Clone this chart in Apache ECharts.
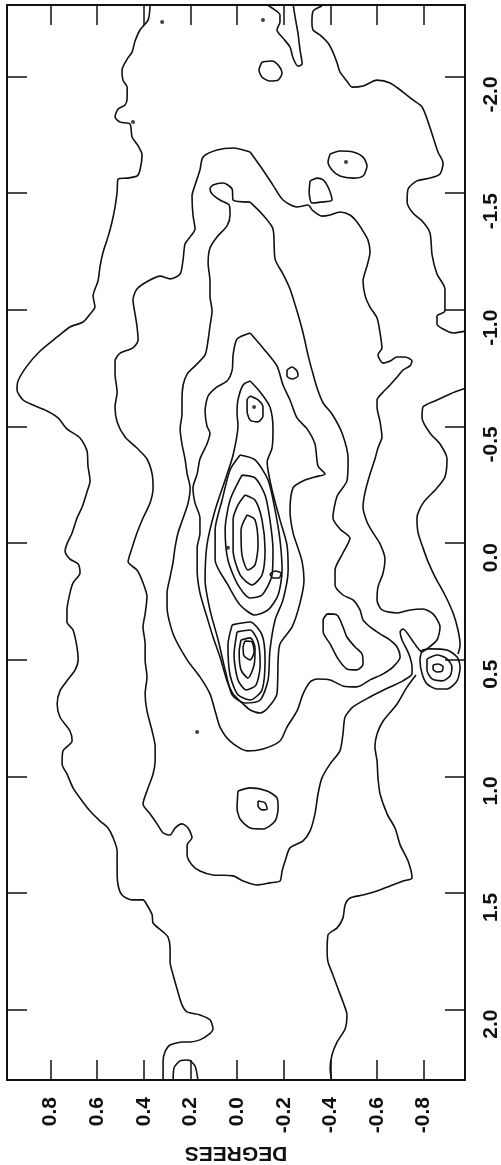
<!DOCTYPE html>
<html><head><meta charset="utf-8">
<script src="https://cdn.jsdelivr.net/npm/echarts@6/dist/echarts.min.js"></script>
<style>html,body{margin:0;padding:0;background:#fff}#c{width:501px;height:1165px}</style>
</head><body><div id="c"></div>
<script>
// Axis tick values (degrees)
const latTicks = [-0.8,-0.6,-0.4,-0.2,0,0.2,0.4,0.6,0.8];
const lonTicks = [-2,-1.5,-1,-0.5,0,0.5,1,1.5,2];
const axisName = 'DEGREES';

// Contours: [latitude, longitude] in degrees
const contourA = [[0.373,-2.302],[0.381,-2.242],[0.416,-2.199],[0.437,-2.152],[0.450,-2.104],[0.471,-2.074],[0.493,-2.027],[0.489,-1.984],[0.471,-1.954],[0.471,-1.907],[0.480,-1.877],[0.510,-1.860],[0.523,-1.826],[0.501,-1.804],[0.459,-1.796],[0.450,-1.740],[0.424,-1.702],[0.407,-1.663],[0.416,-1.599],[0.429,-1.573],[0.471,-1.564],[0.510,-1.560],[0.514,-1.504],[0.523,-1.440],[0.536,-1.376],[0.553,-1.312],[0.574,-1.247],[0.587,-1.187],[0.596,-1.123],[0.617,-1.059],[0.609,-1.011],[0.630,-0.981],[0.660,-0.947],[0.716,-0.926],[0.771,-0.883],[0.844,-0.823],[0.900,-0.759],[0.939,-0.694],[0.943,-0.656],[0.917,-0.613],[0.874,-0.591],[0.814,-0.566],[0.767,-0.536],[0.729,-0.489],[0.673,-0.450],[0.643,-0.394],[0.639,-0.330],[0.630,-0.266],[0.643,-0.219],[0.664,-0.154],[0.686,-0.107],[0.707,-0.043],[0.729,0.004],[0.737,0.034],[0.716,0.069],[0.681,0.090],[0.673,0.129],[0.703,0.171],[0.716,0.214],[0.729,0.287],[0.729,0.339],[0.703,0.373],[0.686,0.446],[0.681,0.501],[0.694,0.544],[0.729,0.591],[0.759,0.634],[0.771,0.690],[0.759,0.746],[0.716,0.806],[0.707,0.849],[0.746,0.891],[0.750,0.947],[0.729,0.990],[0.703,1.050],[0.664,1.106],[0.630,1.149],[0.587,1.192],[0.553,1.222],[0.531,1.264],[0.514,1.320],[0.514,1.406],[0.510,1.466],[0.493,1.509],[0.450,1.530],[0.403,1.530],[0.386,1.552],[0.364,1.594],[0.360,1.629],[0.317,1.667],[0.296,1.689],[0.287,1.736],[0.287,1.796],[0.274,1.852],[0.257,1.912],[0.236,1.980],[0.214,2.010],[0.159,2.023],[0.116,2.044],[0.103,2.083],[0.124,2.109],[0.159,2.130],[0.201,2.139],[0.231,2.139],[0.287,2.152],[0.309,2.182],[0.317,2.224],[0.317,2.310]];

const contourB1 = [[-0.364,-2.302],[-0.326,-2.280],[-0.321,-2.233],[-0.326,-2.199],[-0.356,-2.177],[-0.390,-2.143],[-0.411,-2.104],[-0.429,-2.057],[-0.441,-2.019],[-0.471,-1.980],[-0.493,-1.954],[-0.540,-1.959],[-0.600,-1.984],[-0.656,-1.972],[-0.711,-1.933],[-0.754,-1.899],[-0.793,-1.869],[-0.819,-1.804],[-0.840,-1.740],[-0.861,-1.676],[-0.883,-1.629],[-0.870,-1.582],[-0.827,-1.564],[-0.771,-1.552],[-0.733,-1.517],[-0.729,-1.461],[-0.754,-1.414],[-0.797,-1.376],[-0.827,-1.329],[-0.836,-1.234],[-0.857,-1.153],[-0.891,-1.089],[-0.891,-0.994],[-0.857,-0.973],[-0.857,-0.939],[-0.883,-0.917],[-0.926,-0.900],[-0.981,-0.909]];

const contourB2 = [[-0.981,-0.664],[-0.913,-0.639],[-0.857,-0.613],[-0.797,-0.583],[-0.793,-0.536],[-0.827,-0.471],[-0.870,-0.424],[-0.900,-0.360],[-0.891,-0.283],[-0.857,-0.236],[-0.797,-0.171],[-0.771,-0.107],[-0.776,-0.043],[-0.797,0.021],[-0.819,0.081],[-0.849,0.146],[-0.891,0.223],[-0.926,0.300],[-0.947,0.373],[-0.956,0.437],[-0.947,0.476]];

const contourB3 = [[-0.767,0.566],[-0.729,0.617],[-0.686,0.690],[-0.626,0.763],[-0.600,0.819],[-0.591,0.874],[-0.600,0.934],[-0.604,1.007],[-0.613,1.076],[-0.643,1.161],[-0.677,1.222],[-0.699,1.294],[-0.733,1.363],[-0.750,1.436],[-0.711,1.449],[-0.656,1.470],[-0.600,1.492],[-0.540,1.509],[-0.484,1.522],[-0.463,1.552],[-0.454,1.607],[-0.429,1.650],[-0.390,1.680],[-0.386,1.753],[-0.390,1.796],[-0.411,1.852],[-0.433,1.912],[-0.454,1.967],[-0.471,2.023],[-0.463,2.083],[-0.429,2.139],[-0.407,2.194],[-0.399,2.254],[-0.407,2.310]];

const contourL2 = [[-0.056,-1.676],[0.017,-1.693],[0.086,-1.684],[0.146,-1.654],[0.159,-1.599],[0.180,-1.534],[0.193,-1.487],[0.189,-1.406],[0.180,-1.346],[0.201,-1.312],[0.223,-1.282],[0.231,-1.217],[0.244,-1.153],[0.287,-1.132],[0.330,-1.144],[0.381,-1.123],[0.429,-1.089],[0.446,-1.042],[0.437,-0.981],[0.429,-0.930],[0.424,-0.870],[0.446,-0.836],[0.501,-0.814],[0.523,-0.780],[0.523,-0.724],[0.514,-0.647],[0.523,-0.583],[0.514,-0.519],[0.480,-0.454],[0.429,-0.407],[0.386,-0.360],[0.364,-0.296],[0.360,-0.236],[0.373,-0.171],[0.403,-0.107],[0.429,-0.043],[0.450,0.021],[0.467,0.081],[0.429,0.116],[0.403,0.171],[0.386,0.231],[0.394,0.304],[0.403,0.360],[0.394,0.433],[0.394,0.501],[0.386,0.574],[0.394,0.647],[0.386,0.720],[0.364,0.806],[0.351,0.874],[0.351,0.934],[0.360,0.990],[0.386,1.063],[0.403,1.119],[0.373,1.161],[0.343,1.204],[0.317,1.243],[0.287,1.252],[0.266,1.222],[0.236,1.204],[0.210,1.222],[0.193,1.264],[0.214,1.294],[0.214,1.337],[0.193,1.380],[0.159,1.406],[0.103,1.423],[0.017,1.427],[-0.026,1.449],[-0.086,1.466],[-0.141,1.457],[-0.184,1.449],[-0.193,1.406],[-0.206,1.363],[-0.227,1.307],[-0.283,1.277],[-0.313,1.234],[-0.334,1.161],[-0.347,1.076],[-0.364,1.007],[-0.399,0.947],[-0.441,0.891],[-0.454,0.819],[-0.463,0.746],[-0.497,0.703],[-0.570,0.660],[-0.656,0.617],[-0.711,0.591],[-0.750,0.561],[-0.750,0.531],[-0.741,0.489],[-0.729,0.459],[-0.707,0.416],[-0.699,0.381],[-0.711,0.369],[-0.750,0.416],[-0.771,0.446],[-0.793,0.467],[-0.814,0.454],[-0.857,0.416],[-0.870,0.360],[-0.840,0.304],[-0.797,0.283],[-0.741,0.287],[-0.686,0.300],[-0.621,0.287],[-0.600,0.244],[-0.604,0.189],[-0.626,0.129],[-0.634,0.069],[-0.613,0.004],[-0.583,-0.043],[-0.557,-0.090],[-0.540,-0.154],[-0.549,-0.219],[-0.570,-0.296],[-0.591,-0.360],[-0.604,-0.407],[-0.621,-0.454],[-0.613,-0.519],[-0.600,-0.583],[-0.600,-0.613],[-0.626,-0.647],[-0.656,-0.677],[-0.686,-0.711],[-0.711,-0.741],[-0.741,-0.759],[-0.750,-0.780],[-0.720,-0.797],[-0.686,-0.797],[-0.656,-0.780],[-0.626,-0.771],[-0.604,-0.806],[-0.621,-0.836],[-0.613,-0.900],[-0.600,-0.964],[-0.570,-1.011],[-0.549,-1.059],[-0.540,-1.123],[-0.557,-1.187],[-0.570,-1.247],[-0.561,-1.299],[-0.540,-1.337],[-0.514,-1.376],[-0.484,-1.406],[-0.441,-1.419],[-0.399,-1.406],[-0.364,-1.401],[-0.326,-1.423],[-0.304,-1.449],[-0.257,-1.440],[-0.197,-1.470],[-0.154,-1.534],[-0.111,-1.599],[-0.056,-1.676]];

const contourL3 = [[-0.056,-1.461],[0.017,-1.470],[0.021,-1.517],[0.060,-1.543],[0.103,-1.534],[0.116,-1.517],[0.107,-1.496],[0.073,-1.470],[0.034,-1.449],[0.030,-1.406],[0.043,-1.359],[0.086,-1.312],[0.116,-1.264],[0.124,-1.200],[0.116,-1.123],[0.116,-1.059],[0.107,-0.994],[0.116,-0.930],[0.124,-0.870],[0.137,-0.806],[0.180,-0.759],[0.214,-0.724],[0.231,-0.677],[0.236,-0.613],[0.236,-0.553],[0.244,-0.489],[0.236,-0.424],[0.223,-0.360],[0.214,-0.296],[0.201,-0.236],[0.210,-0.171],[0.231,-0.107],[0.253,-0.043],[0.266,0.021],[0.274,0.081],[0.287,0.146],[0.300,0.214],[0.300,0.274],[0.274,0.390],[0.214,0.501],[0.159,0.574],[0.116,0.647],[0.094,0.720],[0.073,0.789],[0.030,0.849],[-0.043,0.891],[-0.111,0.883],[-0.184,0.849],[-0.214,0.789],[-0.257,0.720],[-0.283,0.647],[-0.313,0.596],[-0.343,0.583],[-0.399,0.587],[-0.454,0.613],[-0.514,0.617],[-0.570,0.587],[-0.626,0.561],[-0.669,0.531],[-0.699,0.489],[-0.686,0.446],[-0.656,0.416],[-0.613,0.390],[-0.570,0.360],[-0.540,0.330],[-0.527,0.287],[-0.497,0.244],[-0.454,0.223],[-0.420,0.180],[-0.420,0.116],[-0.454,0.043],[-0.484,-0.021],[-0.441,-0.060],[-0.411,-0.107],[-0.429,-0.201],[-0.471,-0.266],[-0.476,-0.360],[-0.450,-0.471],[-0.407,-0.553],[-0.369,-0.600],[-0.343,-0.664],[-0.321,-0.741],[-0.304,-0.806],[-0.283,-0.900],[-0.257,-0.994],[-0.227,-1.089],[-0.197,-1.153],[-0.163,-1.217],[-0.154,-1.346],[-0.111,-1.406],[-0.056,-1.461]];

const contourL4 = [[-0.056,-0.900],[0.000,-0.874],[0.017,-0.806],[0.021,-0.741],[0.043,-0.694],[0.086,-0.669],[0.124,-0.630],[0.137,-0.566],[0.129,-0.501],[0.116,-0.471],[0.129,-0.424],[0.159,-0.360],[0.171,-0.296],[0.189,-0.236],[0.180,-0.171],[0.159,-0.107],[0.159,-0.043],[0.171,0.021],[0.171,0.116],[0.159,0.214],[0.129,0.317],[0.103,0.403],[0.073,0.489],[0.043,0.591],[0.017,0.647],[-0.026,0.690],[-0.056,0.716],[-0.099,0.729],[-0.129,0.711],[-0.171,0.647],[-0.176,0.501],[-0.184,0.433],[-0.236,0.360],[-0.270,0.257],[-0.287,0.159],[-0.279,0.081],[-0.261,0.021],[-0.240,-0.043],[-0.227,-0.137],[-0.240,-0.236],[-0.283,-0.266],[-0.334,-0.283],[-0.377,-0.296],[-0.347,-0.330],[-0.334,-0.424],[-0.300,-0.489],[-0.257,-0.536],[-0.227,-0.613],[-0.197,-0.677],[-0.171,-0.759],[-0.111,-0.836],[-0.056,-0.900]];

const coreC5 = [[-0.056,-0.694],[-0.099,-0.647],[-0.141,-0.583],[-0.154,-0.489],[-0.150,-0.407],[-0.129,-0.347],[-0.150,-0.227],[-0.184,-0.099],[-0.214,0.009],[-0.219,0.116],[-0.197,0.244],[-0.163,0.330],[-0.141,0.459],[-0.133,0.587],[-0.099,0.673],[-0.034,0.686],[0.021,0.651],[0.051,0.544],[0.081,0.416],[0.116,0.287],[0.137,0.159],[0.129,0.009],[0.094,-0.141],[0.051,-0.270],[0.017,-0.377],[-0.004,-0.506],[0.000,-0.553],[-0.004,-0.613],[-0.026,-0.677],[-0.056,-0.694]];
const coreC6 = [[-0.013,-0.377],[-0.077,-0.356],[-0.133,-0.270],[-0.163,-0.141],[-0.184,-0.013],[-0.193,0.116],[-0.176,0.223],[-0.133,0.287],[-0.077,0.309],[-0.013,0.266],[0.039,0.180],[0.094,0.073],[0.094,-0.056],[0.064,-0.184],[0.030,-0.313],[-0.013,-0.377]];
const coreC7 = [[-0.021,-0.291],[-0.077,-0.279],[-0.120,-0.206],[-0.141,-0.099],[-0.154,0.030],[-0.150,0.137],[-0.107,0.223],[-0.056,0.236],[-0.004,0.180],[0.039,0.073],[0.051,-0.056],[0.030,-0.184],[-0.021,-0.291]];
const coreC8 = [[-0.034,-0.206],[-0.077,-0.184],[-0.107,-0.099],[-0.120,0.030],[-0.107,0.137],[-0.064,0.180],[-0.013,0.137],[0.017,0.030],[0.017,-0.099],[-0.004,-0.163],[-0.034,-0.206]];
const coreC9 = [[-0.043,-0.120],[-0.077,-0.099],[-0.090,0.009],[-0.077,0.094],[-0.047,0.116],[-0.021,0.051],[-0.017,-0.056],[-0.043,-0.120]];
const topT1 = [[-0.056,-0.630],[-0.090,-0.613],[-0.111,-0.583],[-0.111,-0.544],[-0.090,-0.519],[-0.056,-0.527],[-0.043,-0.566],[-0.043,-0.613],[-0.056,-0.630]];
const lowB1 = [[0.021,0.351],[-0.056,0.339],[-0.107,0.394],[-0.120,0.501],[-0.107,0.630],[-0.056,0.673],[-0.004,0.651],[0.030,0.566],[0.039,0.437],[0.021,0.351]];
const lowB2 = [[0.000,0.381],[-0.056,0.373],[-0.090,0.424],[-0.099,0.523],[-0.081,0.609],[-0.039,0.630],[-0.004,0.587],[0.013,0.480],[0.000,0.381]];
const lowB3 = [[-0.017,0.416],[-0.056,0.407],[-0.077,0.450],[-0.073,0.523],[-0.047,0.579],[-0.017,0.544],[-0.009,0.467],[-0.017,0.416]];
const lowB4 = [[-0.034,0.420],[-0.064,0.424],[-0.073,0.467],[-0.056,0.501],[-0.030,0.484],[-0.026,0.446],[-0.034,0.420]];
const ovalE = [[-0.141,0.133],[-0.163,0.120],[-0.189,0.129],[-0.180,0.150],[-0.154,0.150],[-0.141,0.133]];

const loopS1 = [[-0.107,-2.062],[-0.150,-2.066],[-0.180,-2.044],[-0.193,-2.014],[-0.176,-1.984],[-0.141,-1.980],[-0.107,-1.997],[-0.094,-2.027],[-0.107,-2.062]];
const loopS2 = [[-0.399,-1.667],[-0.441,-1.680],[-0.497,-1.676],[-0.540,-1.654],[-0.557,-1.616],[-0.540,-1.573],[-0.497,-1.564],[-0.441,-1.573],[-0.407,-1.599],[-0.390,-1.633],[-0.399,-1.667]];
const loopD = [[-0.313,-1.552],[-0.343,-1.564],[-0.369,-1.556],[-0.390,-1.526],[-0.407,-1.470],[-0.356,-1.461],[-0.321,-1.457],[-0.309,-1.504],[-0.313,-1.552]];
const loopS3 = [[-0.214,-0.741],[-0.236,-0.754],[-0.257,-0.737],[-0.261,-0.716],[-0.236,-0.703],[-0.214,-0.716],[-0.214,-0.741]];
const island = [[-0.386,0.304],[-0.429,0.309],[-0.454,0.360],[-0.471,0.403],[-0.506,0.446],[-0.536,0.476],[-0.540,0.519],[-0.514,0.544],[-0.471,0.540],[-0.433,0.497],[-0.399,0.433],[-0.369,0.381],[-0.369,0.330],[-0.386,0.304]];
const ringOuter = [[-0.793,0.459],[-0.827,0.454],[-0.900,0.459],[-0.943,0.489],[-0.956,0.531],[-0.943,0.591],[-0.900,0.626],[-0.857,0.626],[-0.814,0.604],[-0.793,0.561],[-0.784,0.501],[-0.793,0.459]];
const ringMid = [[-0.814,0.497],[-0.857,0.480],[-0.900,0.497],[-0.921,0.531],[-0.913,0.570],[-0.879,0.591],[-0.836,0.583],[-0.814,0.544],[-0.814,0.497]];
const ringInner = [[-0.840,0.523],[-0.861,0.519],[-0.883,0.531],[-0.879,0.549],[-0.857,0.553],[-0.840,0.540],[-0.840,0.523]];
const loopS4 = [[-0.004,1.063],[-0.056,1.050],[-0.129,1.063],[-0.171,1.093],[-0.176,1.136],[-0.163,1.192],[-0.111,1.226],[-0.056,1.222],[-0.013,1.183],[0.000,1.136],[-0.004,1.063]];
const loopS4in = [[-0.090,1.106],[-0.120,1.114],[-0.129,1.140],[-0.107,1.144],[-0.090,1.127],[-0.090,1.106]];
const bottomArc = [[0.274,2.310],[0.270,2.250],[0.244,2.220],[0.210,2.216],[0.180,2.242],[0.167,2.310]];
const topFinger = [[-0.124,-2.310],[-0.163,-2.284],[-0.184,-2.263],[-0.184,-2.233],[-0.171,-2.199],[-0.197,-2.164],[-0.227,-2.126],[-0.240,-2.079],[-0.261,-2.044],[-0.279,-2.053],[-0.270,-2.113],[-0.261,-2.186],[-0.249,-2.254],[-0.240,-2.310]];
const dots = [[-0.111,-2.242],[0.321,-2.233],[0.446,-1.804],[-0.467,-1.633],[0.171,0.810],[-0.073,-0.583],[0.039,0.021]];

const strokes = [contourA, contourB1, contourB2, contourB3, contourL2, contourL3, contourL4,
  coreC5, coreC6, coreC7, coreC8, coreC9, topT1, lowB1, lowB2, lowB3, lowB4, ovalE,
  loopS1, loopS2, loopD, loopS3, island, ringOuter, ringMid, ringInner, loopS4, loopS4in, bottomArc, topFinger];

const chart = echarts.init(document.getElementById('c'), null, {renderer: 'canvas'});
const labelFont = {fontFamily: "'Liberation Sans',Arial,Helvetica,sans-serif", fontWeight: 'bold', fontSize: 21, color: '#111'};
const series = strokes.map(d => ({
  type: 'line', data: d, showSymbol: false, smooth: 0.25, animation: false,
  lineStyle: {color: '#111', width: 1.6}, silent: true
}));
series.push({type: 'scatter', data: dots, symbolSize: 4, itemStyle: {color: '#111'}, animation: false, silent: true});

chart.setOption({
  backgroundColor: '#fff',
  animation: false,
  grid: {left: 7, right: 36, top: 5, bottom: 85, containLabel: false, outerBoundsMode: 'none'},
  xAxis: [
    {type: 'value', position: 'bottom', inverse: true, min: -0.977, max: 0.986,
     splitLine: {show: false},
     axisLine: {show: true, onZero: false, lineStyle: {color: '#111', width: 2}},
     axisTick: {show: true, inside: true, length: 20, customValues: latTicks, lineStyle: {color: '#111', width: 1.5}},
     axisLabel: {show: true, rotate: 90, margin: 17, padding: [8, 0, 0, 0], customValues: latTicks, formatter: v => v.toFixed(1), ...labelFont},
     name: axisName, nameLocation: 'middle', nameRotate: 180, nameGap: 62,
     nameTextStyle: {fontFamily: "'Liberation Sans',Arial,sans-serif", fontWeight: 'bold', fontSize: 21, color: '#111'}},
    {type: 'value', position: 'top', inverse: true, min: -0.977, max: 0.986,
     splitLine: {show: false},
     axisLine: {show: true, onZero: false, lineStyle: {color: '#111', width: 2}},
     axisTick: {show: true, inside: true, length: 20, customValues: latTicks, lineStyle: {color: '#111', width: 1.5}},
     axisLabel: {show: false}}
  ],
  yAxis: [
    {type: 'value', position: 'right', inverse: true, min: -2.306, max: 2.302,
     splitLine: {show: false},
     axisLine: {show: true, onZero: false, lineStyle: {color: '#111', width: 2}},
     axisTick: {show: true, inside: true, length: 20, customValues: lonTicks, lineStyle: {color: '#111', width: 1.5}},
     axisLabel: {show: true, rotate: 90, margin: 16, align: 'right', customValues: lonTicks, formatter: v => v.toFixed(1), ...labelFont}},
    {type: 'value', position: 'left', inverse: true, min: -2.306, max: 2.302,
     splitLine: {show: false},
     axisLine: {show: true, onZero: false, lineStyle: {color: '#111', width: 2}},
     axisTick: {show: true, inside: true, length: 20, customValues: lonTicks, lineStyle: {color: '#111', width: 1.5}},
     axisLabel: {show: false}}
  ],
  series: series
});
</script></body></html>
